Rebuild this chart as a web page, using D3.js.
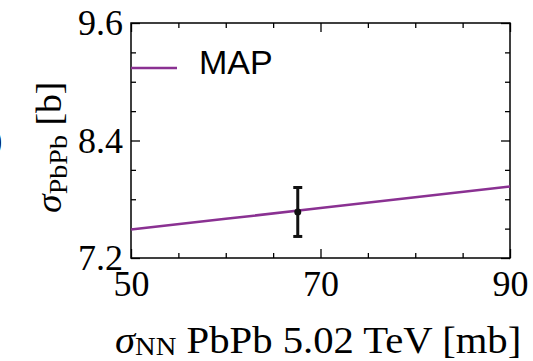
<!DOCTYPE html>
<html>
<head>
<meta charset="utf-8">
<script src="https://cdn.jsdelivr.net/npm/d3@7"></script>
<style>
  body { margin: 0; background: #fff; }
  svg { display: block; }
</style>
</head>
<body>
<div class="board"></div>
<script>
// data
var xDomain = [50, 90];
var yDomain = [7.2, 9.6];
var xMajor = [50, 70, 90];
var xMinor = [55, 60, 65, 75, 80, 85];
var yMajor = [7.2, 8.4, 9.6];
var yMinor = [7.5, 7.8, 8.1, 8.7, 9.0, 9.3];

var sigmaNN = [50, 60, 70, 80, 90];
var sigmaPbPb = [7.49, 7.60, 7.71, 7.82, 7.93];

var measNN = [67.6];
var measPbPb = [7.67];
var measErr = [0.25];

var legendLabel = 'MAP';

//globals
var width = 533;
var height = 361;
var margin = {top: 23, right: 23, bottom: 103, left: 131};
var purple = '#8a3192';
var serif = '"Liberation Serif", "Times New Roman", serif';

var svg = d3.select('.board').append('svg')
  .attr('width', width)
  .attr('height', height);

var x = d3.scaleLinear().domain(xDomain).range([margin.left, width - margin.right]);
var y = d3.scaleLinear().domain(yDomain).range([height - margin.bottom, margin.top]);

var fmtY = d3.format('.1f');

// ticks point inward on all four sides
var drawAxis = function(axis, tx, ty, values, size, labels) {
  var g = svg.append('g')
    .attr('transform', 'translate(' + tx + ',' + ty + ')')
    .call(axis.tickValues(values).tickSize(-size));
  g.select('.domain').remove();
  g.selectAll('line').attr('stroke', '#000').attr('stroke-width', 1.3);
  if (!labels) g.selectAll('text').remove();
  return g;
};

var bottomY = height - margin.bottom;
var rightX = width - margin.right;

drawAxis(d3.axisBottom(x).tickPadding(12).tickFormat(d3.format('d')), 0, bottomY, xMajor, 9, true);
drawAxis(d3.axisBottom(x), 0, bottomY, xMinor, 5, false);
drawAxis(d3.axisTop(x), 0, margin.top, xMajor, 9, false);
drawAxis(d3.axisTop(x), 0, margin.top, xMinor, 5, false);

drawAxis(d3.axisLeft(y).tickPadding(8).tickFormat(fmtY), margin.left, 0, yMajor, 9, true);
drawAxis(d3.axisLeft(y), margin.left, 0, yMinor, 5, false);
drawAxis(d3.axisRight(y), rightX, 0, yMajor, 9, false);
drawAxis(d3.axisRight(y), rightX, 0, yMinor, 5, false);

svg.selectAll('.tick text')
  .attr('font-family', serif)
  .attr('font-size', 36)
  .attr('fill', '#000');

// frame
svg.append('rect')
  .attr('x', margin.left)
  .attr('y', margin.top)
  .attr('width', rightX - margin.left)
  .attr('height', bottomY - margin.top)
  .attr('fill', 'none')
  .attr('stroke', '#000')
  .attr('stroke-width', 1.5);

// MAP curve
var line = d3.line()
  .x(function(d, i) { return x(sigmaNN[i]); })
  .y(function(d) { return y(d); });

svg.append('path')
  .datum(sigmaPbPb)
  .attr('d', line)
  .attr('fill', 'none')
  .attr('stroke', purple)
  .attr('stroke-width', 2.5);

// measured point with error bar
var meas = svg.selectAll('.meas').data(measNN).enter().append('g').attr('class', 'meas');
meas.append('line')
  .attr('x1', function(d) { return x(d); })
  .attr('x2', function(d) { return x(d); })
  .attr('y1', function(d, i) { return y(measPbPb[i] - measErr[i]); })
  .attr('y2', function(d, i) { return y(measPbPb[i] + measErr[i]); })
  .attr('stroke', '#111').attr('stroke-width', 3);
[-1, 1].forEach(function(s) {
  meas.append('line')
    .attr('x1', function(d) { return x(d) - 4.5; })
    .attr('x2', function(d) { return x(d) + 4.5; })
    .attr('y1', function(d, i) { return y(measPbPb[i] + s * measErr[i]); })
    .attr('y2', function(d, i) { return y(measPbPb[i] + s * measErr[i]); })
    .attr('stroke', '#111').attr('stroke-width', 3);
});
meas.append('circle')
  .attr('cx', function(d) { return x(d); })
  .attr('cy', function(d, i) { return y(measPbPb[i]); })
  .attr('r', 3.5)
  .attr('fill', '#111');

// legend
svg.append('line')
  .attr('x1', margin.left).attr('x2', margin.left + 46)
  .attr('y1', 68).attr('y2', 68)
  .attr('stroke', purple).attr('stroke-width', 2.5);
svg.append('text')
  .attr('x', 199).attr('y', 74)
  .attr('font-family', '"Liberation Sans", Arial, sans-serif')
  .attr('font-size', 34)
  .attr('fill', '#000')
  .text(legendLabel);

// x title (glyphs in the original are a bit wider than Liberation Serif)
var xt = svg.append('text')
  .attr('transform', 'translate(115,353) scale(1.1,1)')
  .attr('font-family', serif)
  .attr('font-size', 37)
  .attr('fill', '#000');
xt.append('tspan').attr('font-style', 'italic').text('\u03c3');
xt.append('tspan').attr('font-size', 26).attr('dy', 2).text('NN');
xt.append('tspan').attr('dy', -2).text(' PbPb 5.02 TeV [mb]');

// y title
var yt = svg.append('text')
  .attr('transform', 'translate(61,213) rotate(-90) scale(1.08,1)')
  .attr('font-family', serif)
  .attr('font-size', 35)
  .attr('fill', '#000');
yt.append('tspan').attr('font-style', 'italic').text('\u03c3');
yt.append('tspan').attr('font-size', 26).attr('dy', 6).text('PbPb');
yt.append('tspan').attr('dy', -6).text(' [b]');

// clipped glyph from the neighbouring panel
svg.append('text')
  .attr('x', -9).attr('y', 151)
  .attr('font-family', serif)
  .attr('font-size', 34)
  .attr('fill', '#000')
  .text(')');
</script>
</body>
</html>
